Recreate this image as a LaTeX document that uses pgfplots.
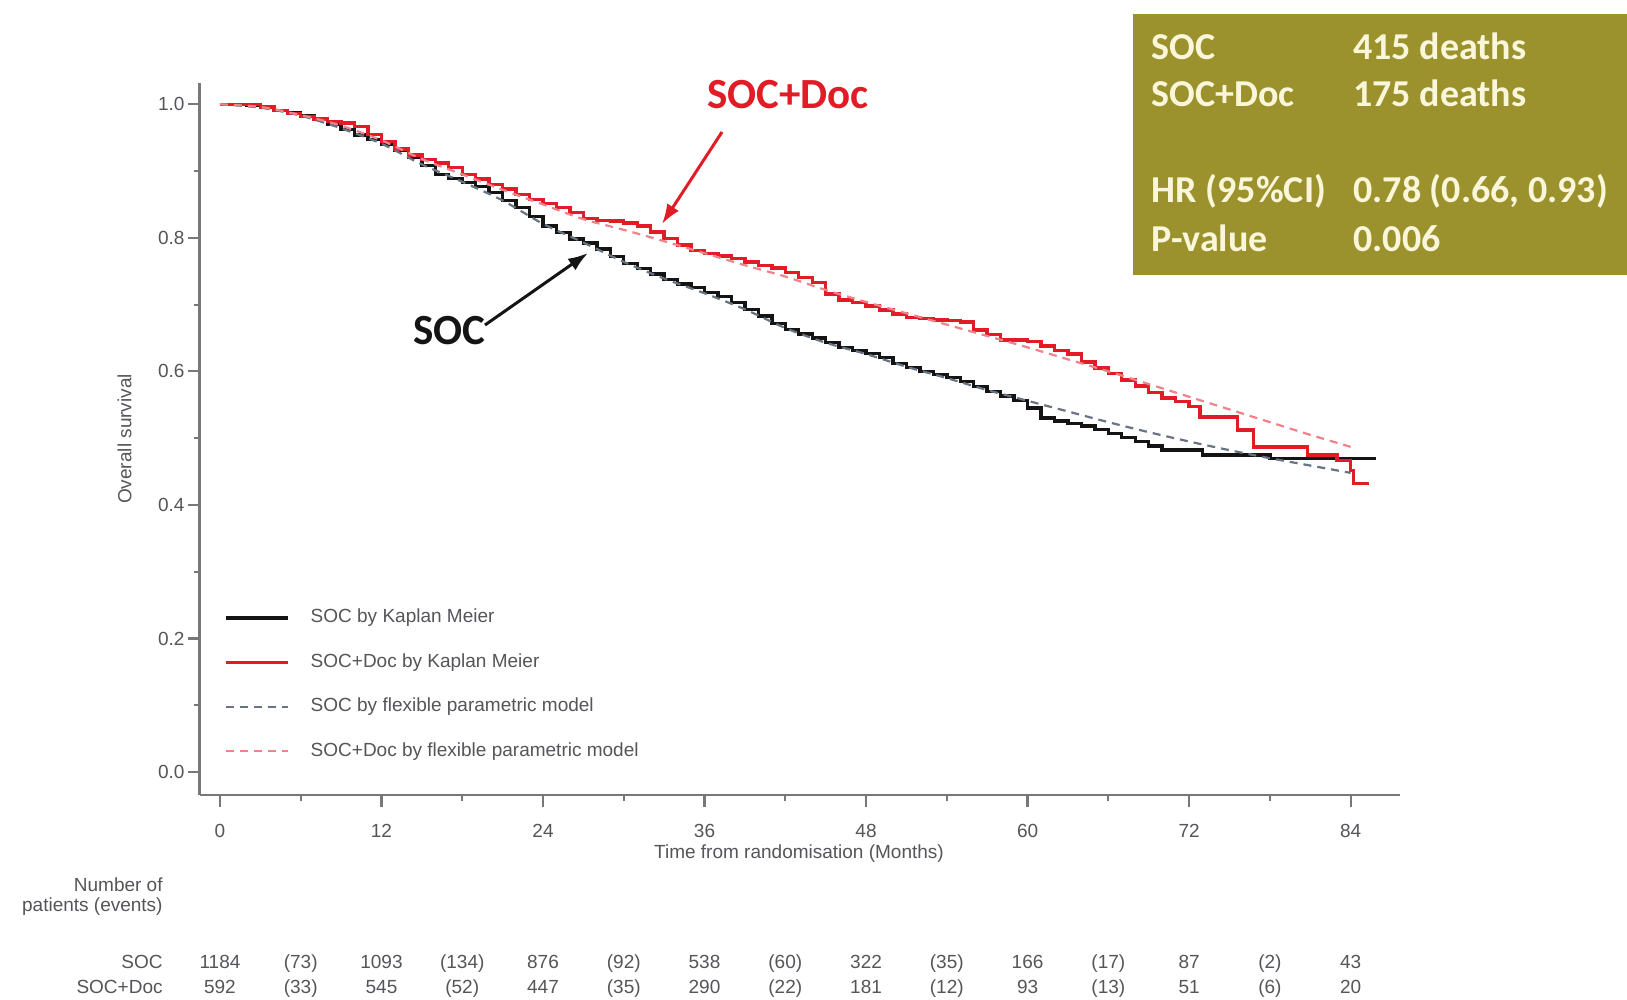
\documentclass[border=0pt]{standalone}
\usepackage{pgfplots}
\pgfplotsset{compat=1.18}
\usepackage{fontspec}
\setmainfont{Liberation Sans}
\newfontfamily\calfont{Carlito}
\usetikzlibrary{arrows.meta}
\definecolor{boxolive}{RGB}{155,146,46}
\definecolor{boxtext}{RGB}{250,246,218}
\definecolor{kmred}{RGB}{226,28,38}
\definecolor{kmblack}{RGB}{20,20,20}
\definecolor{fpgray}{RGB}{105,115,130}
\definecolor{fppink}{RGB}{240,130,140}
\definecolor{txtgray}{RGB}{85,85,90}
\definecolor{axgray}{RGB}{120,120,120}

\pgfplotstableread{
t s
0 1.000
1 1.000
2 0.999
3 0.995
4 0.991
5 0.987
6 0.983
7 0.977
8 0.970
9 0.962
10 0.954
11 0.947
12 0.940
13 0.931
14 0.921
15 0.908
16 0.895
17 0.889
18 0.883
19 0.877
20 0.868
21 0.856
22 0.845
23 0.832
24 0.818
25 0.808
26 0.798
27 0.792
28 0.783
29 0.772
30 0.762
31 0.754
32 0.746
33 0.738
34 0.731
35 0.726
36 0.718
37 0.712
38 0.703
39 0.693
40 0.683
41 0.672
42 0.663
43 0.656
44 0.650
45 0.643
46 0.636
47 0.631
48 0.627
49 0.621
50 0.612
51 0.606
52 0.600
53 0.595
54 0.591
55 0.585
56 0.577
57 0.570
58 0.563
59 0.556
60 0.545
61 0.530
62 0.526
63 0.522
64 0.518
65 0.513
66 0.507
67 0.501
68 0.495
69 0.488
70 0.482
73 0.475
78 0.470
85.9 0.470
}\socKM

\pgfplotstableread{
t s
0 1.000
2 1.000
3 0.996
4 0.991
5 0.986
6 0.982
7 0.978
8 0.974
9 0.972
10 0.967
11 0.955
12 0.944
13 0.933
14 0.924
15 0.917
16 0.912
17 0.905
18 0.895
19 0.888
20 0.880
21 0.873
22 0.865
23 0.857
24 0.851
25 0.845
26 0.838
27 0.829
28 0.826
29 0.825
30 0.822
31 0.818
32 0.809
33 0.799
34 0.789
35 0.781
36 0.777
37 0.773
38 0.769
39 0.764
40 0.759
41 0.755
42 0.748
43 0.741
44 0.733
45 0.716
46 0.707
47 0.703
48 0.698
49 0.692
50 0.686
51 0.681
52 0.679
53 0.677
54 0.676
55 0.674
56 0.662
57 0.655
58 0.647
59 0.647
60 0.645
61 0.638
62 0.631
63 0.626
64 0.614
65 0.605
66 0.597
67 0.587
68 0.578
69 0.568
70 0.560
71 0.555
72 0.547
72.8 0.532
75.6 0.512
76.8 0.487
80.8 0.475
83.0 0.467
84.0 0.452
84.2 0.432
85.4 0.432
}\docKM

\pgfplotstableread{
t s
0 1.000
3 0.995
6 0.983
9 0.964
12 0.941
15 0.910
18 0.884
21 0.856
24 0.821
27 0.793
30 0.764
33 0.739
36 0.717
39 0.693
42 0.665
45 0.643
48 0.626
51 0.607
54 0.590
57 0.572
60 0.556
63 0.540
66 0.524
69 0.509
72 0.495
75 0.482
78 0.470
81 0.459
84 0.448
}\socFP

\pgfplotstableread{
t s
0 1.000
3 0.996
6 0.984
9 0.968
12 0.946
15 0.918
18 0.895
21 0.872
24 0.850
27 0.828
30 0.812
33 0.795
36 0.777
39 0.759
42 0.742
45 0.722
48 0.704
51 0.687
54 0.670
57 0.653
60 0.636
63 0.618
66 0.600
69 0.581
72 0.562
75 0.543
78 0.524
81 0.505
84 0.487
}\docFP

\pgfplotstableread{
t y lab
0 -0.2860 1184
6 -0.2860 (73)
12 -0.2860 1093
18 -0.2860 (134)
24 -0.2860 876
30 -0.2860 (92)
36 -0.2860 538
42 -0.2860 (60)
48 -0.2860 322
54 -0.2860 (35)
60 -0.2860 166
66 -0.2860 (17)
72 -0.2860 87
78 -0.2860 (2)
84 -0.2860 43
}\socRisk

\pgfplotstableread{
t y lab
0 -0.3235 592
6 -0.3235 (33)
12 -0.3235 545
18 -0.3235 (52)
24 -0.3235 447
30 -0.3235 (35)
36 -0.3235 290
42 -0.3235 (22)
48 -0.3235 181
54 -0.3235 (12)
60 -0.3235 93
66 -0.3235 (13)
72 -0.3235 51
78 -0.3235 (6)
84 -0.3235 20
}\docRisk

\begin{document}
\begin{tikzpicture}
\useasboundingbox (0,0) rectangle (813.5pt,-500pt);
\fill[white] (0,0) rectangle (813.5pt,-500pt);
\begin{axis}[
  at={(99.75pt,-397.5pt)}, anchor=south west,
  scale only axis, width=600.25pt, height=356pt,
  xmin=-1.52, xmax=87.67, ymin=-0.0344, ymax=1.0319,
  axis lines=left, axis line style={-, draw=axgray, line width=1.2pt},
  clip=false,
  tick align=outside,
  major tick length=6pt, minor tick length=3pt,
  every tick/.style={draw=axgray, line width=1.1pt},
  xtick={0,12,...,84}, minor xtick={6,18,...,78},
  ytick={0,0.2,0.4,0.6,0.8,1.0}, minor ytick={0.1,0.3,0.5,0.7,0.9},
  /pgf/number format/assume math mode=true,
  yticklabel style={/pgf/number format/.cd, fixed, fixed zerofill, precision=1, /tikz/.cd, xshift=2pt},
  xticklabel style={yshift=-5pt},
  ticklabel style={font=\fontsize{9.5}{11}\selectfont, text=txtgray},
  legend style={draw=none, fill=none, at={(axis cs:-0.15,0.131)}, anchor=west,
    font=\fontsize{9.5}{11}\selectfont, text=txtgray,
    nodes={inner sep=0pt, text height=7pt, text depth=2pt},
    row sep=13.2pt,
    /tikz/every odd column/.append style={column sep=10.5pt}},
  legend cell align=left,
  legend image code/.code={\draw[#1] (0pt,0pt) -- (31pt,0pt);},
]
\addplot[const plot, draw=kmblack, line width=1.7pt] table[x=t,y=s] {\socKM};
\addlegendentry{SOC by Kaplan Meier}
\addplot[const plot, draw=kmred, line width=1.7pt] table[x=t,y=s] {\docKM};
\addlegendentry{SOC+Doc by Kaplan Meier}
\addplot[smooth, draw=fpgray, line width=1.1pt, dash pattern=on 4pt off 3pt] table[x=t,y=s] {\socFP};
\addlegendentry{SOC by flexible parametric model}
\addplot[smooth, draw=fppink, line width=1.1pt, dash pattern=on 4pt off 3pt] table[x=t,y=s] {\docFP};
\addlegendentry{SOC+Doc by flexible parametric model}
\addplot[forget plot, draw=none, mark=none, nodes near coords, point meta=explicit symbolic,
  nodes near coords style={anchor=center, inner sep=0pt, text height=7pt, text depth=2pt, font=\fontsize{9.5}{11}\selectfont, text=txtgray}]
  table[x=t,y=y,meta=lab] {\socRisk};
\addplot[forget plot, draw=none, mark=none, nodes near coords, point meta=explicit symbolic,
  nodes near coords style={anchor=center, inner sep=0pt, text height=7pt, text depth=2pt, font=\fontsize{9.5}{11}\selectfont, text=txtgray}]
  table[x=t,y=y,meta=lab] {\docRisk};
\end{axis}

% axis titles
\node[font=\fontsize{9.5}{11}\selectfont, text=txtgray] at (399.5pt,-427pt) {Time from randomisation (Months)};
\node[font=\fontsize{9.5}{11}\selectfont, text=txtgray, rotate=90] at (62.25pt,-219.5pt) {Overall survival};

% number at risk labels
\begin{scope}[every node/.style={font=\fontsize{9.5}{11}\selectfont, text=txtgray, anchor=east, inner sep=0pt}]
\node at (81.5pt,-442.5pt) {Number of};
\node at (81.5pt,-453.5pt) {patients (events)};
\node[text height=7pt, text depth=2pt] at (81.5pt,-481.5pt) {SOC};
\node[text height=7pt, text depth=2pt] at (81.5pt,-494pt) {SOC+Doc};
\end{scope}

% annotations
\node[font=\calfont\bfseries\fontsize{21.5}{24}\selectfont, text=kmred, inner sep=0pt] at (394pt,-47.5pt) {SOC+Doc};
\draw[kmred, line width=1.5pt, -{Latex[length=10pt, width=7pt]}] (361pt,-66pt) -- (331pt,-112pt);
\node[font=\calfont\bfseries\fontsize{21.5}{24}\selectfont, text=kmblack, inner sep=0pt] at (224.75pt,-165.5pt) {SOC};
\draw[kmblack, line width=1.5pt, -{Latex[length=10pt, width=7pt]}] (242.5pt,-162.5pt) -- (294pt,-126.5pt);

% stats box
\fill[boxolive] (566.5pt,-7.25pt) rectangle (813.5pt,-137.5pt);
\begin{scope}[every node/.style={font=\calfont\bfseries\fontsize{19}{22}\selectfont, text=boxtext, anchor=base west, inner sep=0pt}]
\node at (575.75pt,-30pt) {SOC};
\node at (676.5pt,-30pt) {415 deaths};
\node at (575.75pt,-53.25pt) {SOC+Doc};
\node at (676.5pt,-53.25pt) {175 deaths};
\node at (575.75pt,-101.5pt) {HR (95\%CI)};
\node at (676.5pt,-101.5pt) {0.78 (0.66, 0.93)};
\node at (575.75pt,-125.75pt) {P-value};
\node at (676.5pt,-125.75pt) {0.006};
\end{scope}
\end{tikzpicture}
\end{document}
